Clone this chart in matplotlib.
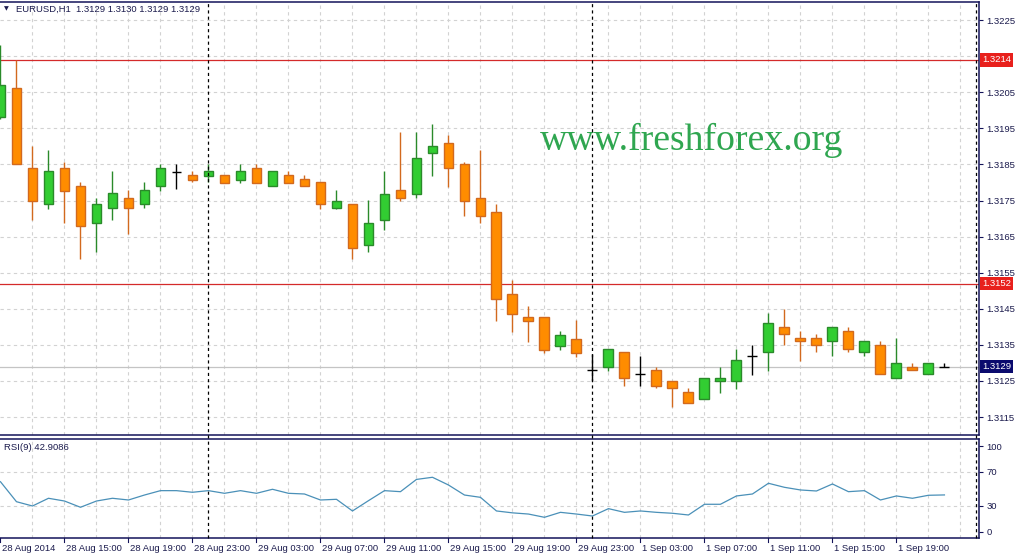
import matplotlib
matplotlib.use("Agg")
import matplotlib.pyplot as plt
import matplotlib.transforms as mtransforms
from matplotlib.lines import Line2D
import numpy as np

# ---------------- data ----------------
title_text = "EURUSD,H1  1.3129 1.3130 1.3129 1.3129"
rsi_title = "RSI(9) 42.9086"
watermark = "www.freshforex.org"

opens = [1.31981, 1.32061, 1.31839, 1.31739, 1.31839, 1.31790, 1.31689, 1.31728, 1.31758, 1.31739,
         1.31789, 1.31830, 1.31820, 1.31819, 1.31820, 1.31807, 1.31839, 1.31789, 1.31820, 1.31809,
         1.31800, 1.31728, 1.31739, 1.31627, 1.31697, 1.31779, 1.31769, 1.31881, 1.31909, 1.31851,
         1.31758, 1.31719, 1.31490, 1.31428, 1.31428, 1.31347, 1.31367, 1.31280, 1.31288, 1.31330,
         1.31269, 1.31280, 1.31250, 1.31219, 1.31199, 1.31249, 1.31249, 1.31319, 1.31330, 1.31400,
         1.31369, 1.31369, 1.31360, 1.31388, 1.31330, 1.31350, 1.31258, 1.31288, 1.31269, 1.31290]
highs = [1.32180, 1.32140, 1.31902, 1.31890, 1.31858, 1.31800, 1.31758, 1.31831, 1.31778, 1.31800,
         1.31850, 1.31850, 1.31831, 1.31850, 1.31820, 1.31850, 1.31850, 1.31831, 1.31831, 1.31820,
         1.31800, 1.31779, 1.31739, 1.31751, 1.31832, 1.31939, 1.31939, 1.31962, 1.31932, 1.31858,
         1.31890, 1.31740, 1.31529, 1.31459, 1.31428, 1.31388, 1.31418, 1.31325, 1.31338, 1.31330,
         1.31319, 1.31288, 1.31250, 1.31230, 1.31258, 1.31289, 1.31339, 1.31350, 1.31439, 1.31450,
         1.31389, 1.31380, 1.31399, 1.31399, 1.31360, 1.31360, 1.31370, 1.31299, 1.31299, 1.31300]
lows = [1.31975, 1.31850, 1.31696, 1.31726, 1.31687, 1.31589, 1.31607, 1.31696, 1.31658, 1.31728,
        1.31777, 1.31783, 1.31800, 1.31800, 1.31799, 1.31799, 1.31799, 1.31789, 1.31799, 1.31789,
        1.31726, 1.31726, 1.31587, 1.31607, 1.31669, 1.31749, 1.31757, 1.31819, 1.31788, 1.31707,
        1.31689, 1.31416, 1.31385, 1.31357, 1.31328, 1.31335, 1.31317, 1.31250, 1.31279, 1.31237,
        1.31237, 1.31230, 1.31177, 1.31188, 1.31199, 1.31218, 1.31228, 1.31268, 1.31279, 1.31350,
        1.31306, 1.31330, 1.31319, 1.31330, 1.31319, 1.31269, 1.31258, 1.31280, 1.31269, 1.31290]
closes = [1.32070, 1.31850, 1.31749, 1.31831, 1.31777, 1.31678, 1.31739, 1.31770, 1.31728, 1.31778,
          1.31839, 1.31830, 1.31807, 1.31831, 1.31799, 1.31831, 1.31799, 1.31831, 1.31799, 1.31789,
          1.31739, 1.31750, 1.31619, 1.31689, 1.31769, 1.31757, 1.31869, 1.31900, 1.31839, 1.31749,
          1.31707, 1.31478, 1.31436, 1.31417, 1.31336, 1.31378, 1.31328, 1.31280, 1.31338, 1.31257,
          1.31269, 1.31237, 1.31230, 1.31188, 1.31258, 1.31258, 1.31308, 1.31319, 1.31411, 1.31380,
          1.31360, 1.31350, 1.31399, 1.31338, 1.31360, 1.31269, 1.31299, 1.31280, 1.31299, 1.31290]
rsi = [58.3, 35.0, 30.0, 39.0, 35.8, 28.5, 35.8, 39.0, 37.0, 42.8,
       47.9, 47.9, 46.0, 47.9, 44.8, 47.9, 44.8, 49.5, 44.8, 44.0,
       37.0, 37.8, 24.2, 36.2, 47.9, 46.7, 61.0, 63.5, 54.5, 42.8,
       40.1, 24.2, 22.0, 20.6, 16.8, 22.6, 20.6, 18.3, 26.9, 22.6,
       24.2, 22.6, 21.5, 19.5, 32.0, 32.0, 41.7, 44.0, 56.5, 51.8,
       48.7, 47.5, 55.7, 46.7, 47.9, 37.0, 41.7, 39.0, 42.5, 42.9]

x_label_idx = [0, 4, 8, 12, 16, 20, 24, 28, 32, 36, 40, 44, 48, 52, 56]
x_labels = ["28 Aug 2014", "28 Aug 15:00", "28 Aug 19:00", "28 Aug 23:00", "29 Aug 03:00",
            "29 Aug 07:00", "29 Aug 11:00", "29 Aug 15:00", "29 Aug 19:00", "29 Aug 23:00",
            "1 Sep 03:00", "1 Sep 07:00", "1 Sep 11:00", "1 Sep 15:00", "1 Sep 19:00"]
price_ticks = [1.3115, 1.3125, 1.3135, 1.3145, 1.3155, 1.3165, 1.3175, 1.3185, 1.3195, 1.3205, 1.3225]
price_grid = [1.3115, 1.3125, 1.3135, 1.3145, 1.3155, 1.3165, 1.3175, 1.3185, 1.3195, 1.3205, 1.3215, 1.3225]
rsi_ticks = [0, 30, 70, 100]
rsi_grid = [30, 70]
level_lines = [1.3214, 1.3152]
current_price = 1.3129
day_separators = [13, 37, 61]

# ---------------- style ----------------
W, H = 1021, 555
TXT = "#1b1b4d"
NAVY = "#14145a"
BULL_FILL, BULL_EDGE = "#32cd32", "#2a8a2a"
BEAR_FILL, BEAR_EDGE = "#ff8c00", "#d2691e"
GRID = "#d2d2d2"
FONT = "Liberation Sans"
FS = 6.8

fig = plt.figure(figsize=(W / 100, H / 100), dpi=100)
fig.patch.set_facecolor("white")

def fy(px):
    return 1 - px / H

right_px = 979
main_top, main_bot = 2, 435
rsi_top, rsi_bot = 439, 538
ax = fig.add_axes([0, fy(main_bot), right_px / W, (main_bot - main_top) / H])
axr = fig.add_axes([0, fy(rsi_bot), right_px / W, (rsi_bot - rsi_top) / H])

xl = (-0.03, 61.16)
n = len(opens)
idx = np.arange(n)

ppx = 36100.0
ax.set_ylim(1.3225 - (main_bot - 20) / ppx, 1.3225 + (20 - main_top) / ppx)
ax.set_xlim(*xl)
axr.set_xlim(*xl)
rpx = 0.857
axr.set_ylim(-(rsi_bot - 531.7) / rpx, 100 + (446 - rsi_top) / rpx)

for a in (ax, axr):
    a.set_facecolor("white")
    for s in a.spines.values():
        s.set_color(NAVY)
        s.set_linewidth(1.1)
    a.spines["left"].set_visible(False)
    a.tick_params(axis="x", which="both", bottom=False, labelbottom=False, top=False)
    for gx in range(2, 62, 2):
        a.axvline(gx, color=GRID, lw=0.8, ls=(0, (3, 3)), zorder=0)

for g in price_grid:
    ax.axhline(g, color=GRID, lw=0.8, ls=(0, (3, 3)), zorder=0)
for g in rsi_grid:
    axr.axhline(g, color=GRID, lw=0.8, ls=(0, (3, 3)), zorder=0)

ax.axhline(current_price, color="#c4c4c4", lw=0.9, zorder=1)
for lv in level_lines:
    ax.axhline(lv, color="#d42a2a", lw=0.9, zorder=1)

bw = 0.62
for i in range(n):
    o, h, l, c = opens[i], highs[i], lows[i], closes[i]
    if abs(c - o) < 1e-9:
        ax.vlines(i, l, h, color="black", lw=1.0, zorder=3)
        ax.hlines(o, i - bw / 2, i + bw / 2, color="black", lw=1.0, zorder=3)
        continue
    bull = c > o
    fill = BULL_FILL if bull else BEAR_FILL
    edge = BULL_EDGE if bull else BEAR_EDGE
    ax.vlines(i, l, h, color=edge, lw=1.0, zorder=2)
    ax.bar(i, abs(c - o), bottom=min(o, c), width=bw, color=fill,
           edgecolor=edge, linewidth=1.0, zorder=3)

axr.plot(idx, rsi, color="#4a90b8", lw=0.9, zorder=3)

ax.yaxis.tick_right()
ax.set_yticks(price_ticks)
ax.set_yticklabels([f"{t:.4f}" for t in price_ticks])
ax.tick_params(axis="y", length=3, width=0.8, color=NAVY, pad=2.5, labelsize=FS,
               labelcolor=TXT, direction="out")
axr.yaxis.tick_right()
axr.set_yticks(rsi_ticks)
axr.set_yticklabels([str(t) for t in rsi_ticks])
axr.tick_params(axis="y", length=3, width=0.8, color=NAVY, pad=2.5, labelsize=FS,
                labelcolor=TXT, direction="out")
for lab in ax.get_yticklabels() + axr.get_yticklabels():
    lab.set_fontfamily(FONT)

tb = mtransforms.blended_transform_factory(fig.transFigure, ax.transData)
for lv in level_lines:
    ax.text(982 / W, lv, f"{lv:.4f}", transform=tb, ha="left", va="center",
            fontsize=FS, family=FONT, color="white", zorder=10,
            bbox=dict(boxstyle="square,pad=0.25", fc="#e8201c", ec="none"))
ax.text(982 / W, current_price, f"{current_price:.4f}", transform=tb, ha="left",
        va="center", fontsize=FS, family=FONT, color="white", zorder=10,
        bbox=dict(boxstyle="square,pad=0.25", fc="#0a0a6e", ec="none"))

tsep = mtransforms.blended_transform_factory(ax.transData, fig.transFigure)
for d in day_separators:
    fig.add_artist(Line2D([d, d], [fy(rsi_bot), fy(main_top)], transform=tsep,
                          color="black", lw=0.9, ls=(0, (2.5, 2.5)), zorder=5))

tx = mtransforms.blended_transform_factory(axr.transData, fig.transFigure)
for i, lab in zip(x_label_idx, x_labels):
    fig.add_artist(Line2D([i, i], [fy(rsi_bot), fy(rsi_bot + 4)], transform=tx,
                          color=NAVY, lw=0.8))
    t = fig.text(0, fy(548.5), lab, transform=tx, ha="left", va="center", fontsize=FS,
                 family=FONT, color=TXT)
    t.set_x(i + 0.1)

fig.text(4 / W, fy(9), "\u25BC", fontsize=4.5, color=TXT, family="DejaVu Sans",
         ha="left", va="center")
fig.text(16 / W, fy(9), title_text, fontsize=FS, family=FONT, color=TXT,
         ha="left", va="center")
fig.text(4 / W, fy(448), rsi_title, fontsize=FS, family=FONT, color=TXT,
         ha="left", va="center")

fig.text(692 / W, fy(150), watermark, fontsize=27.2, family="Liberation Serif",
         color="#2fa650", ha="center", va="baseline")

fig.savefig("out.png", dpi=100, facecolor="white")
